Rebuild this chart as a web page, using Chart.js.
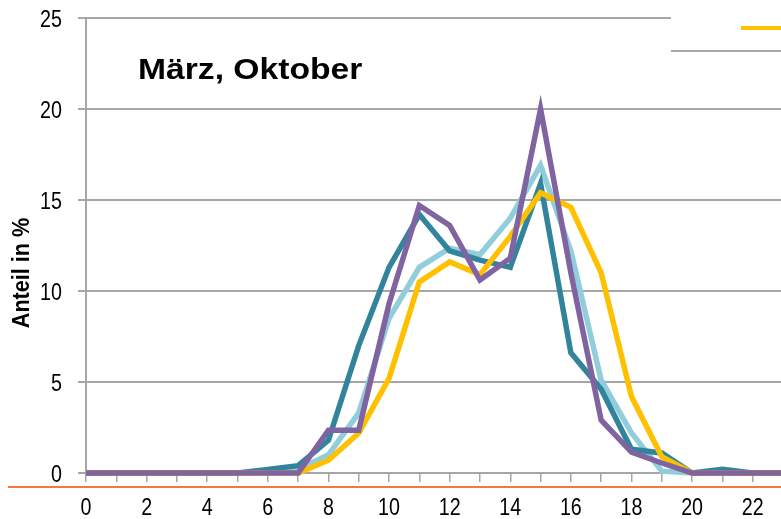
<!DOCTYPE html>
<html>
<head>
<meta charset="utf-8">
<script src="https://cdn.jsdelivr.net/npm/chart.js@4.4.1/dist/chart.umd.min.js"></script>
<style>
    html, body { margin: 0; padding: 0; background: #fff; overflow: hidden; }
    #wrap { position: relative; width: 800px; height: 519px; }
</style>
</head>
<body>
<div id="wrap"><canvas id="chart"></canvas></div>
<script>
// Hours of the day (x axis)
const hours = [0, 1, 2, 3, 4, 5, 6, 7, 8, 9, 10, 11, 12, 13, 14, 15, 16, 17, 18, 19, 20, 21, 22, 23];
const xTickLabels = ['0', '', '2', '', '4', '', '6', '', '8', '', '10', '', '12', '', '14', '', '16', '', '18', '', '20', '', '22', ''];
const yTicks = [0, 5, 10, 15, 20, 25];

// Share in % per hour, one array per series
const tealValues = [0, 0, 0, 0, 0, 0, 0.2, 0.4, 1.8, 7.0, 11.3, 14.2, 12.2, 11.7, 11.3, 15.9, 6.6, 4.6, 1.3, 1.1, 0, 0.2, 0, 0];
const lightBlueValues = [0, 0, 0, 0, 0, 0, 0.1, 0.2, 1.0, 3.3, 8.5, 11.3, 12.35, 12.0, 14.0, 16.9, 12.2, 5.1, 2.2, 0.1, 0, 0, 0, 0];
const yellowValues = [0, 0, 0, 0, 0, 0, 0, 0, 0.7, 2.2, 5.2, 10.5, 11.6, 10.9, 13.0, 15.4, 14.6, 11.0, 4.2, 0.9, 0, 0, 0, 0];
const purpleValues = [0, 0, 0, 0, 0, 0, 0, 0, 2.35, 2.35, 9.3, 14.7, 13.6, 10.6, 11.8, 20.0, 11.0, 2.9, 1.15, 0.55, 0, 0, 0, 0];

const chartTitle = 'März, Oktober';
const yAxisTitle = 'Anteil in %';

const GRID = '#A6A6A6';
const FONT = "'Liberation Sans', Arial, sans-serif";

function toPoints(values) {
    return values.map((v, i) => ({ x: hours[i], y: v }));
}

function series(values, color, order) {
    return {
        data: toPoints(values),
        borderColor: color,
        backgroundColor: color,
        borderWidth: 5.5,
        pointRadius: 0,
        tension: 0,
        order: order,
        borderJoinStyle: 'miter',
        clip: false
    };
}

// draw text squeezed/stretched horizontally (source uses a condensed face)
function drawScaled(ctx, text, x, y, sx) {
    ctx.save();
    ctx.translate(x, y);
    ctx.scale(sx, 1);
    ctx.fillText(text, 0, 0);
    ctx.restore();
}

// Extra drawings: tick labels, titles, orange rule and the cut-off legend box
const decorations = {
    id: 'decorations',
    afterDraw(chart) {
        const ctx = chart.ctx;
        const xs = chart.scales.x;
        const ys = chart.scales.y;
        ctx.save();

        // orange rule below the axis
        ctx.strokeStyle = '#F47A3C';
        ctx.lineWidth = 2;
        ctx.beginPath();
        ctx.moveTo(8, 487);
        ctx.lineTo(800, 487);
        ctx.stroke();

        // tick labels
        ctx.fillStyle = '#000';
        ctx.font = '24px ' + FONT;
        ctx.textBaseline = 'alphabetic';
        ctx.textAlign = 'center';
        hours.forEach((h, i) => {
            if (xTickLabels[i]) drawScaled(ctx, xTickLabels[i], xs.getPixelForValue(h), 515, 0.82);
        });
        ctx.textAlign = 'right';
        yTicks.forEach(v => {
            drawScaled(ctx, String(v), 62, ys.getPixelForValue(v) + 8.5, 0.82);
        });

        // legend corner
        ctx.fillStyle = '#fff';
        ctx.fillRect(671, 0, 140, 50);
        ctx.strokeStyle = GRID;
        ctx.lineWidth = 2;
        ctx.beginPath();
        ctx.moveTo(671, 51);
        ctx.lineTo(800, 51);
        ctx.stroke();
        ctx.strokeStyle = '#FFC000';
        ctx.lineWidth = 4;
        ctx.beginPath();
        ctx.moveTo(741, 28);
        ctx.lineTo(800, 28);
        ctx.stroke();

        // chart title
        ctx.fillStyle = '#000';
        ctx.font = 'bold 29px ' + FONT;
        ctx.textAlign = 'left';
        drawScaled(ctx, chartTitle, 138, 79, 1.16);

        // y axis title
        ctx.translate(22, 273);
        ctx.rotate(-Math.PI / 2);
        ctx.font = 'bold 24px ' + FONT;
        ctx.textAlign = 'center';
        ctx.textBaseline = 'middle';
        drawScaled(ctx, yAxisTitle, 0, 0, 0.9);
        ctx.restore();
    }
};

const chart = new Chart(document.getElementById('chart'), {
    type: 'line',
    data: {
        datasets: [
            series(purpleValues, '#8064A2', 0),
            series(yellowValues, '#FFC000', 1),
            series(tealValues, '#31849B', 2),
            series(lightBlueValues, '#92CDDC', 3)
        ]
    },
    options: {
        responsive: true,
        maintainAspectRatio: false,
        animation: false,
        layout: { padding: { top: 18, right: 17, left: 0, bottom: 0 } },
        plugins: {
            legend: { display: false },
            tooltip: { enabled: false }
        },
        scales: {
            x: {
                type: 'linear',
                min: 0,
                max: 23,
                afterBuildTicks: (scale) => {
                    scale.ticks = hours.map(h => ({ value: h }));
                },
                afterFit: (scale) => { scale.height = 46; },
                ticks: { display: false, autoSkip: false },
                grid: {
                    drawOnChartArea: false,
                    drawTicks: true,
                    tickLength: 9,
                    color: GRID,
                    lineWidth: 1.5
                },
                border: { color: GRID, width: 2 }
            },
            y: {
                min: 0,
                max: 25,
                afterBuildTicks: (scale) => {
                    scale.ticks = yTicks.map(v => ({ value: v }));
                },
                afterFit: (scale) => { scale.width = 86; },
                ticks: { display: false },
                grid: {
                    color: GRID,
                    lineWidth: 2,
                    drawTicks: true,
                    tickLength: 8
                },
                border: { color: GRID, width: 2 }
            }
        }
    },
    plugins: [decorations]
});
</script>
</body>
</html>
